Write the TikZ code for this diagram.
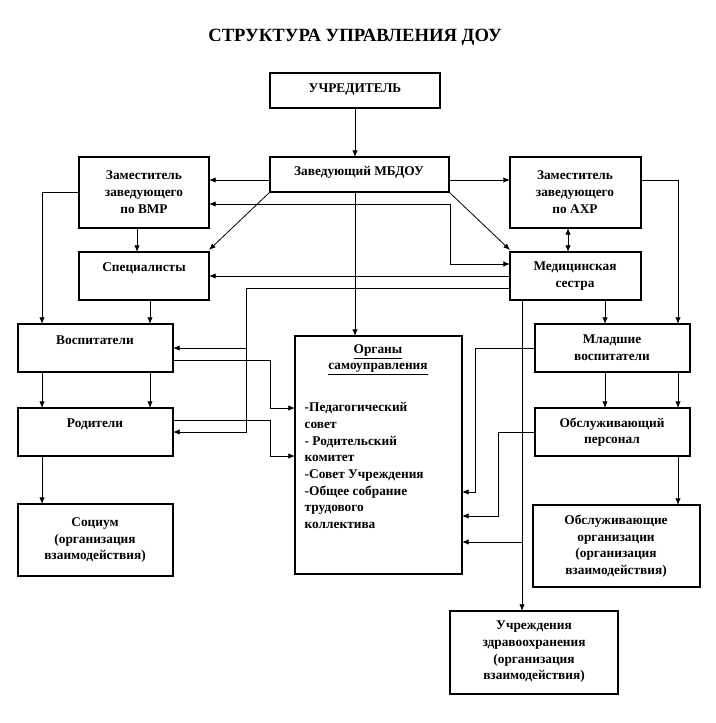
\documentclass[tikz,border=0pt]{standalone}
\usepackage{fontspec}
\setmainfont{Liberation Serif}
\usetikzlibrary{arrows.meta}
\begin{document}
\begin{tikzpicture}[x=0.75pt,y=-0.75pt,
  bx/.style={draw,line width=0.8pt},
  t/.style={font=\bfseries\fontsize{10}{12.5}\selectfont,align=center},
  a/.style={-{Latex[length=5pt,width=4pt]},line width=0.6pt},
  l/.style={line width=0.6pt}]
\useasboundingbox (0,0) rectangle (715,723);
\node[font=\bfseries\fontsize{14}{16}\selectfont] (title) at (355,37) {СТРУКТУРА УПРАВЛЕНИЯ ДОУ};
% boxes
\draw[bx] (270,73) rectangle (440,108); \node[t] (u) at (355,90) {УЧРЕДИТЕЛЬ};
\draw[bx] (270,157) rectangle (449,192); \node[t] (z) at (359,172) {Заведующий МБДОУ};
\draw[bx] (79,157) rectangle (209,228); \node[t] (vmr) at (144,192) {Заместитель\\заведующего\\по ВМР};
\draw[bx] (510,157) rectangle (641,228); \node[t] (ahr) at (575,192) {Заместитель\\заведующего\\по АХР};
\draw[bx] (79,252) rectangle (209,300); \node[t] (sp) at (144,268) {Специалисты};
\draw[bx] (510,252) rectangle (641,300); \node[t] (med) at (575,276) {Медицинская\\сестра};
\draw[bx] (18,324) rectangle (173,372); \node[t] (vos) at (95,340) {Воспитатели};
\draw[bx] (18,408) rectangle (173,456); \node[t] (rod) at (95,424) {Родители};
\draw[bx] (18,504) rectangle (173,576); \node[t] (soc) at (95,540) {Социум\\(организация\\взаимодействия)};
\draw[bx] (295,336) rectangle (462,574);
\node[t] (org) at (378,360) {\underline{Органы}\\\underline{самоуправления}};
\node[t,align=left,anchor=north west] (orgl) at (300,398) {-Педагогический\\совет\\- Родительский\\комитет\\-Совет Учреждения\\-Общее собрание\\трудового\\коллектива};
\draw[bx] (535,324) rectangle (690,372); \node[t] (ml) at (612,348) {Младшие\\воспитатели};
\draw[bx] (535,408) rectangle (690,456); \node[t] (ob) at (612,432) {Обслуживающий\\персонал};
\draw[bx] (533,505) rectangle (700,587); \node[t] (oo) at (616,546) {Обслуживающие\\организации\\(организация\\взаимодействия)};
\draw[bx] (450,611) rectangle (618,694); \node[t] (uz) at (534,652) {Учреждения\\здравоохранения\\(организация\\взаимодействия)};
% connectors
\draw[a] (355,108) -- (355,157);
\draw[a] (270,180) -- (209,180);
\draw[a] (449,180) -- (510,180);
\draw[a] (270,192) -- (209,250);
\draw[a] (449,192) -- (510,250);
\draw[a] (355,192) -- (355,336);
\draw[a] (450,204) -- (209,204);
\draw[a] (450,204) -- (450,264) -- (510,264);
\draw[a] (510,276) -- (209,276);
\draw[a] (510,288) -- (246,288) -- (246,432) -- (173,432);
\draw[a] (246,348) -- (173,348);
\draw[a] (79,192) -- (42,192) -- (42,324);
\draw[a] (137,228) -- (137,252);
\draw[a] (150,300) -- (150,324);
\draw[a] (42,372) -- (42,408);
\draw[a] (150,372) -- (150,408);
\draw[a] (173,360) -- (270,360) -- (270,408) -- (295,408);
\draw[a] (173,420) -- (270,420) -- (270,456) -- (295,456);
\draw[a] (42,456) -- (42,504);
\draw[a] (641,180) -- (678,180) -- (678,324);
\draw[a,{Latex[length=5pt,width=4pt]}-{Latex[length=5pt,width=4pt]}] (568,228) -- (568,252);
\draw[a] (605,300) -- (605,324);
\draw[a] (522,300) -- (522,611);
\draw[a] (522,542) -- (462,542);
\draw[a] (535,348) -- (475,348) -- (475,492) -- (462,492);
\draw[a] (605,372) -- (605,408);
\draw[a] (678,372) -- (678,408);
\draw[a] (535,432) -- (498,432) -- (498,516) -- (462,516);
\draw[a] (678,456) -- (678,505);
\end{tikzpicture}
\end{document}
